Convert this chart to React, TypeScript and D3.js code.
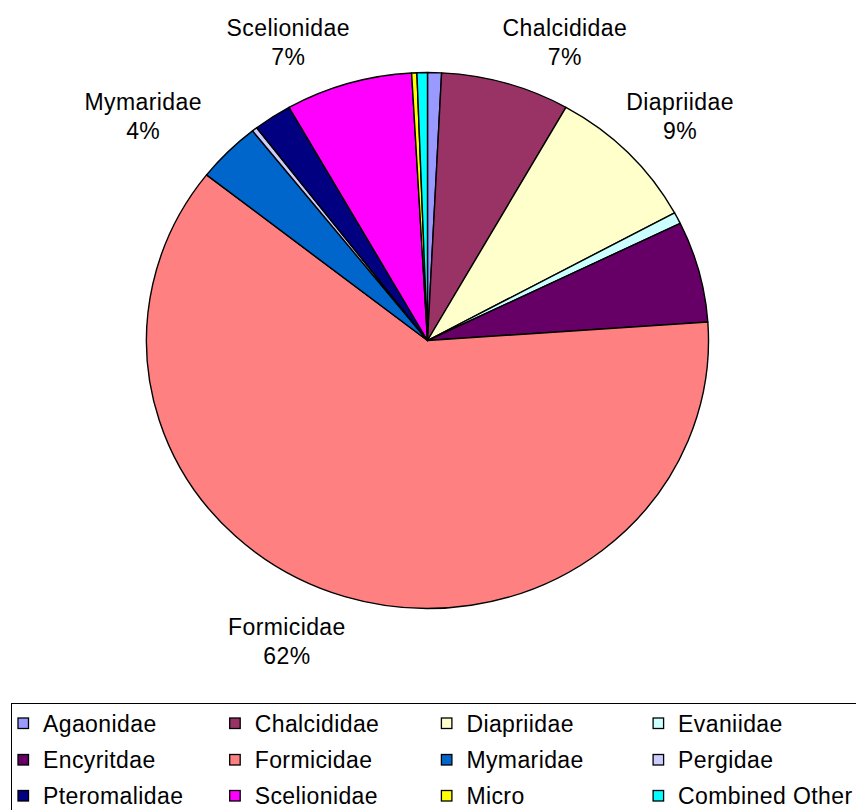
import React from "react";
import * as d3 from "d3";

const categories = [
  "Agaonidae", "Chalcididae", "Diapriidae", "Evaniidae", "Encyritdae", "Formicidae",
  "Mymaridae", "Pergidae", "Pteromalidae", "Scelionidae", "Micro", "Combined Other",
];
const values = [0.8, 7.4, 8.9, 0.7, 6.1, 61.7, 3.7, 0.3, 2.2, 7.3, 0.3, 0.6];
const colors = [
  "#9999FF", "#993366", "#FFFFCC", "#CCFFFF", "#660066", "#FF8080",
  "#0066CC", "#CCCCFF", "#000080", "#FF00FF", "#FFFF00", "#00FFFF",
];
const labelled = ["Chalcididae", "Diapriidae", "Formicidae", "Mymaridae", "Scelionidae"];

const W = 856;
const H = 810;
const cx = 427.5;
const cy = 340.5;
const rx = 281;
const ry = 268;
const FONT = "'Liberation Sans', Arial, sans-serif";
const FS = 23;
const LS = 0.4;

// label nudges relative to slice anchor on the pie rim
const labelNudge: Record<string, [number, number]> = {
  Chalcididae: [59, -41],
  Diapriidae: [52, -36],
  Mymaridae: [-85, -35],
  Scelionidae: [-60, -41],
  Formicidae: [-58, 45],
};

export default function App() {
  const data = categories.map((c, i) => ({ name: c, value: values[i], color: colors[i] }));
  const pie = d3.pie<any>().sort(null).value((d) => d.value).startAngle(0).endAngle(2 * Math.PI);
  const arcs = pie(data);
  const arc = d3.arc<any>().innerRadius(0).outerRadius(rx);
  const total = d3.sum(values);

  const cols = 4;
  const colX = d3.range(cols).map((i) => 18 + i * 211.7);
  const rowY = [723.5, 760, 796];

  return (
    <svg width={W} height={H} style={{ position: "absolute", left: 0, top: 0, background: "#fff" }}>
      <g transform={`translate(${cx},${cy}) scale(1,${ry / rx})`}>
        {arcs.map((a, i) => (
          <path
            key={i}
            d={arc(a) || ""}
            fill={a.data.color}
            stroke="#000"
            strokeWidth={1.4}
            strokeLinejoin="round"
            vectorEffect="non-scaling-stroke"
          />
        ))}
      </g>
      {arcs
        .filter((a) => labelled.includes(a.data.name))
        .map((a, i) => {
          const mid = (a.startAngle + a.endAngle) / 2;
          const ax = cx + rx * Math.sin(mid);
          const ay = cy - ry * Math.cos(mid);
          const [nx, ny] = labelNudge[a.data.name];
          const tx = ax + nx;
          const ty = ay + ny;
          const pct = Math.round((a.data.value / total) * 100) + "%";
          return (
            <g key={i} fontFamily={FONT} fontSize={FS} letterSpacing={LS} fill="#000" textAnchor="middle">
              <text x={tx} y={ty - 6.5}>{a.data.name}</text>
              <text x={tx} y={ty + 22.5}>{pct}</text>
            </g>
          );
        })}
      <rect x={11.5} y={703.5} width={900} height={200} fill="none" stroke="#000" strokeWidth={1} />
      {data.map((d, i) => {
        const c = i % cols;
        const r = Math.floor(i / cols);
        const x = colX[c];
        const y = rowY[r];
        return (
          <g key={i}>
            <rect x={x} y={y - 5.5} width={10.5} height={10.5} fill={d.color} stroke="#000" strokeWidth={1.3} />
            <text x={x + 25} y={y + 8} fontFamily={FONT} fontSize={FS} letterSpacing={LS} fill="#000">
              {d.name}
            </text>
          </g>
        );
      })}
    </svg>
  );
}
